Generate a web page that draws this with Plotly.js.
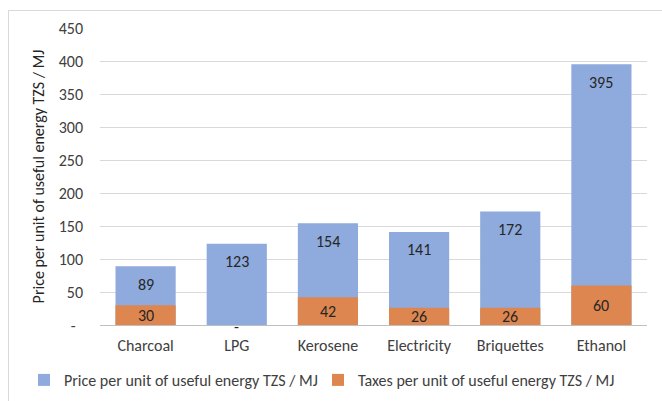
<!DOCTYPE html>
<html>
<head>
<meta charset="utf-8">
<script src="https://cdn.plot.ly/plotly-3.0.1.min.js"></script>
<style>
  html, body { margin: 0; padding: 0; background: #fff; }
  #wrap { position: relative; width: 662px; height: 401px; overflow: hidden; }
  #frame { position: absolute; left: 8px; top: 10px; width: 700px; height: 450px; border-left: 1px solid #D9D9D9; border-top: 1px solid #D9D9D9; pointer-events: none; }
  #chart { position: absolute; left: 0; top: 0; width: 662px; height: 401px; }
</style>
</head>
<body>
<div id="wrap">
  <div id="chart"></div>
  <div id="frame"></div>
</div>
<script>
const categories = ["Charcoal", "LPG", "Kerosene", "Electricity", "Briquettes", "Ethanol"];
const priceValues = [89, 123, 154, 141, 172, 395];
const taxValues = [30, 0, 42, 26, 26, 60];
const priceName = "Price per unit of useful energy TZS / MJ";
const taxName = "Taxes per unit of useful energy TZS / MJ";
const yTickVals = [0, 50, 100, 150, 200, 250, 300, 350, 400, 450];
const yTickText = ["-\u00a0\u00a0", "50", "100", "150", "200", "250", "300", "350", "400", "450"];
const yAxisTitle = "Price per unit of useful energy TZS / MJ";

const FONT = "Calibri, Carlito, 'Open Sans', sans-serif";
const FS = 16;
const BLUE = "#8FAADC";
const ORANGE = "#DE8650";
const TXT = "#404040";
const fmt = v => v === 0 ? "-" : String(v);

const traces = [
  { type: "bar", name: priceName, x: categories, y: priceValues, marker: { color: BLUE }, hoverinfo: "x+y", legend: "legend" },
  { type: "bar", name: taxName, x: categories, y: taxValues, marker: { color: ORANGE }, hoverinfo: "x+y", legend: "legend2" }
];

const annotations = [];
categories.forEach((c, i) => {
  annotations.push({ x: c, y: priceValues[i], xref: "x", yref: "y", text: fmt(priceValues[i]),
    showarrow: false, yanchor: "middle", yshift: -18, font: { family: FONT, size: FS, color: "#262626" } });
  const t = taxValues[i];
  annotations.push({ x: c, y: t / 2, xref: "x", yref: "y", text: fmt(t),
    showarrow: false, yanchor: "middle", yshift: t === 0 ? -1 : 0, font: { family: FONT, size: FS, color: "#262626" } });
});

const legendBase = { orientation: "h", xref: "container", yref: "container", xanchor: "left", y: 21 / 401, yanchor: "middle",
  font: { family: FONT, size: FS, color: TXT }, itemwidth: 30, bgcolor: "rgba(0,0,0,0)" };

const layout = {
  width: 662, height: 401,
  margin: { l: 100, r: 15, t: 28, b: 76 },
  paper_bgcolor: "rgba(0,0,0,0)", plot_bgcolor: "#fff",
  barmode: "overlay", bargap: 0.34,
  font: { family: FONT, size: FS, color: TXT },
  showlegend: true,
  legend: Object.assign({}, legendBase, { x: 24 / 662 }),
  legend2: Object.assign({}, legendBase, { x: 318 / 662 }),
  xaxis: { type: "category", showgrid: false, zeroline: false, showline: true, linecolor: "#BFBFBF", linewidth: 1,
    ticks: "", tickfont: { family: FONT, size: FS, color: TXT }, ticklabelstandoff: 6, fixedrange: true },
  yaxis: { range: [0, 450], tickvals: yTickVals, ticktext: yTickText, showgrid: true, gridcolor: "#D9D9D9", gridwidth: 1,
    zeroline: false, showline: false, ticks: "", tickfont: { family: FONT, size: FS, color: TXT }, ticklabelstandoff: 16,
    title: { text: yAxisTitle, font: { family: FONT, size: FS, color: "#262626" }, standoff: 10 }, fixedrange: true },
  annotations: annotations
};

Plotly.newPlot("chart", traces, layout, { displayModeBar: false, staticPlot: true });
</script>
</body>
</html>
